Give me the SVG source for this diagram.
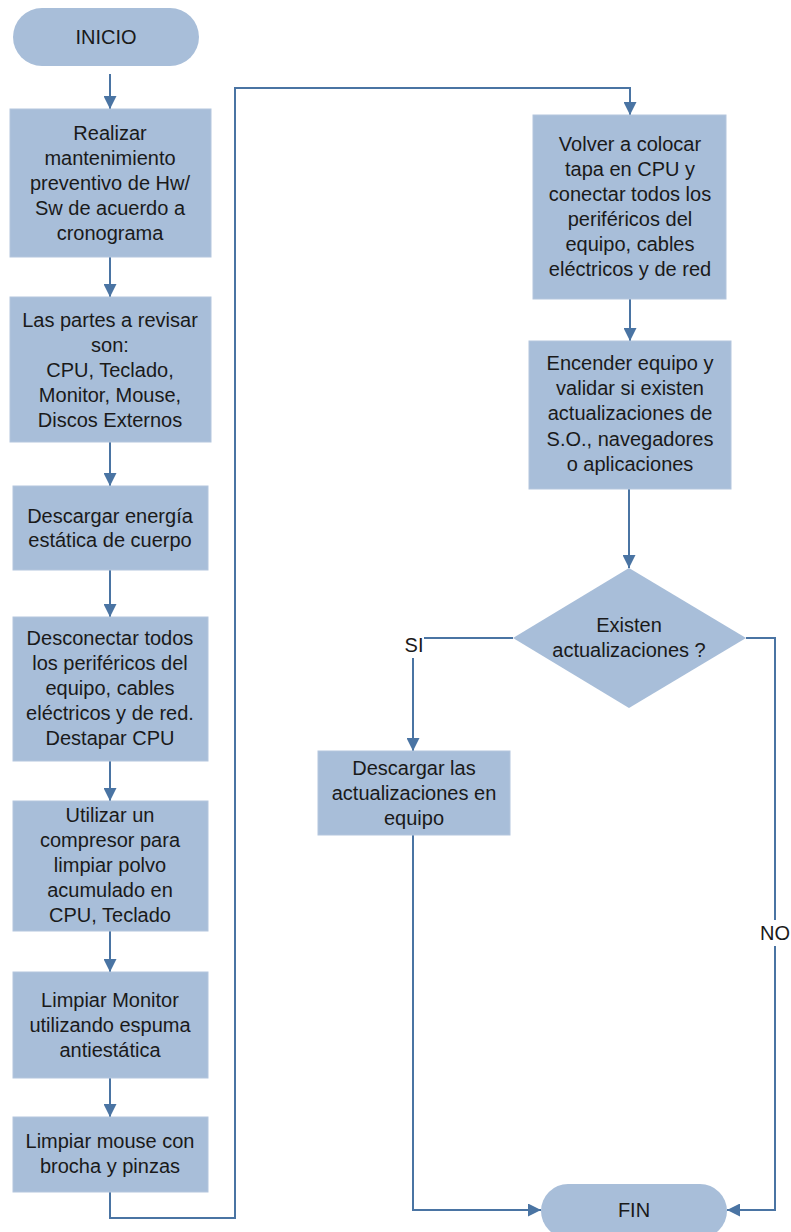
<svg xmlns="http://www.w3.org/2000/svg" width="791" height="1232" viewBox="0 0 791 1232">
  <style>
    .box { fill: #A8BED9; stroke: #B4C6DD; stroke-width: 1; }
    .term { fill: #A8BED9; }
    .lbl { font-family: "Liberation Sans", Arial, sans-serif; font-size: 20px; fill: #1a1a1a; text-anchor: middle; }
    .wire { fill: none; stroke: #4A74A3; stroke-width: 2; }
  </style>
  <defs>
    <marker id="arrow" viewBox="0 0 13 13" refX="13" refY="6.5" markerWidth="13" markerHeight="13" markerUnits="userSpaceOnUse" orient="auto">
      <path d="M0,0 L13,6.5 L0,13 Z" fill="#4A74A3"/>
    </marker>
  </defs>
  <rect width="791" height="1232" fill="#ffffff"/>

  <!-- connectors -->
  <g id="connectors">
    <path class="wire" d="M110,74 V109" marker-end="url(#arrow)"/>
    <path class="wire" d="M110,257 V297" marker-end="url(#arrow)"/>
    <path class="wire" d="M110,442 V486" marker-end="url(#arrow)"/>
    <path class="wire" d="M110,570 V617" marker-end="url(#arrow)"/>
    <path class="wire" d="M110,761 V801" marker-end="url(#arrow)"/>
    <path class="wire" d="M110,931 V972" marker-end="url(#arrow)"/>
    <path class="wire" d="M110,1078 V1117" marker-end="url(#arrow)"/>
    <path class="wire" d="M110,1192 V1218 H235 V88 H630 V115" marker-end="url(#arrow)"/>
    <!-- heavier stretch of the return line -->
    <path class="wire" d="M235,460 V835" stroke-width="3"/>
    <path class="wire" d="M630,299 V341" marker-end="url(#arrow)"/>
    <path class="wire" d="M629,489 V568" marker-end="url(#arrow)"/>
    <path class="wire" d="M513,638 H424"/>
    <path class="wire" d="M413,658 V751" marker-end="url(#arrow)"/>
    <path class="wire" d="M413,835 V1210 H541" marker-end="url(#arrow)"/>
    <path class="wire" d="M746,638 H775 V920"/>
    <path class="wire" d="M775,946 V1210 H727" marker-end="url(#arrow)"/>
    <text class="lbl" x="414" y="652">SI</text>
    <text class="lbl" x="775" y="940">NO</text>
  </g>

  <g id="inicio">
    <rect class="term" x="13" y="8" width="186" height="58" rx="29"/>
    <text class="lbl" x="106" y="44">INICIO</text>
  </g>

  <g id="mantenimiento">
    <rect class="box" x="10" y="109" width="201" height="148"/>
    <text class="lbl" x="110" y="140">Realizar</text>
    <text class="lbl" x="110" y="165">mantenimiento</text>
    <text class="lbl" x="110" y="190">preventivo de Hw/</text>
    <text class="lbl" x="110" y="215">Sw de acuerdo a</text>
    <text class="lbl" x="110" y="240">cronograma</text>
  </g>

  <g id="partes">
    <rect class="box" x="10" y="297" width="201" height="145"/>
    <text class="lbl" x="110" y="327">Las partes a revisar</text>
    <text class="lbl" x="110" y="352">son:</text>
    <text class="lbl" x="110" y="377">CPU, Teclado,</text>
    <text class="lbl" x="110" y="402">Monitor, Mouse,</text>
    <text class="lbl" x="110" y="427">Discos Externos</text>
  </g>

  <g id="descarga-energia">
    <rect class="box" x="13" y="486" width="195" height="84"/>
    <text class="lbl" x="110" y="523">Descargar energía</text>
    <text class="lbl" x="110" y="547">estática de cuerpo</text>
  </g>

  <g id="desconectar">
    <rect class="box" x="13" y="617" width="195" height="144"/>
    <text class="lbl" x="110" y="645">Desconectar todos</text>
    <text class="lbl" x="110" y="670">los periféricos del</text>
    <text class="lbl" x="110" y="695">equipo, cables</text>
    <text class="lbl" x="110" y="720">eléctricos y de red.</text>
    <text class="lbl" x="110" y="745">Destapar CPU</text>
  </g>

  <g id="compresor">
    <rect class="box" x="13" y="801" width="195" height="130"/>
    <text class="lbl" x="110" y="822">Utilizar un</text>
    <text class="lbl" x="110" y="847">compresor para</text>
    <text class="lbl" x="110" y="872">limpiar polvo</text>
    <text class="lbl" x="110" y="897">acumulado en</text>
    <text class="lbl" x="110" y="922">CPU, Teclado</text>
  </g>

  <g id="monitor">
    <rect class="box" x="13" y="972" width="195" height="106"/>
    <text class="lbl" x="110" y="1007">Limpiar Monitor</text>
    <text class="lbl" x="110" y="1032">utilizando espuma</text>
    <text class="lbl" x="110" y="1057">antiestática</text>
  </g>

  <g id="mouse">
    <rect class="box" x="13" y="1117" width="195" height="75"/>
    <text class="lbl" x="110" y="1148">Limpiar mouse con</text>
    <text class="lbl" x="110" y="1173">brocha y pinzas</text>
  </g>

  <g id="tapa">
    <rect class="box" x="533" y="115" width="193" height="184"/>
    <text class="lbl" x="630" y="151">Volver a colocar</text>
    <text class="lbl" x="630" y="176">tapa en CPU y</text>
    <text class="lbl" x="630" y="201">conectar todos los</text>
    <text class="lbl" x="630" y="226">periféricos del</text>
    <text class="lbl" x="630" y="251">equipo, cables</text>
    <text class="lbl" x="630" y="276">eléctricos y de red</text>
  </g>

  <g id="encender">
    <rect class="box" x="529" y="341" width="202" height="148"/>
    <text class="lbl" x="630" y="370">Encender equipo y</text>
    <text class="lbl" x="630" y="395">validar si existen</text>
    <text class="lbl" x="630" y="420">actualizaciones de</text>
    <text class="lbl" x="630" y="446">S.O., navegadores</text>
    <text class="lbl" x="630" y="471">o aplicaciones</text>
  </g>

  <g id="decision">
    <polygon class="term" points="629,568 746,638 629,708 513,638"/>
    <text class="lbl" x="629" y="632">Existen</text>
    <text class="lbl" x="629" y="657">actualizaciones ?</text>
  </g>

  <g id="descargar-actualizaciones">
    <rect class="box" x="318" y="751" width="192" height="84"/>
    <text class="lbl" x="414" y="775">Descargar las</text>
    <text class="lbl" x="414" y="800">actualizaciones en</text>
    <text class="lbl" x="414" y="825">equipo</text>
  </g>

  <g id="fin">
    <rect class="term" x="541" y="1184" width="186" height="54" rx="27"/>
    <text class="lbl" x="634" y="1217">FIN</text>
  </g>
</svg>
